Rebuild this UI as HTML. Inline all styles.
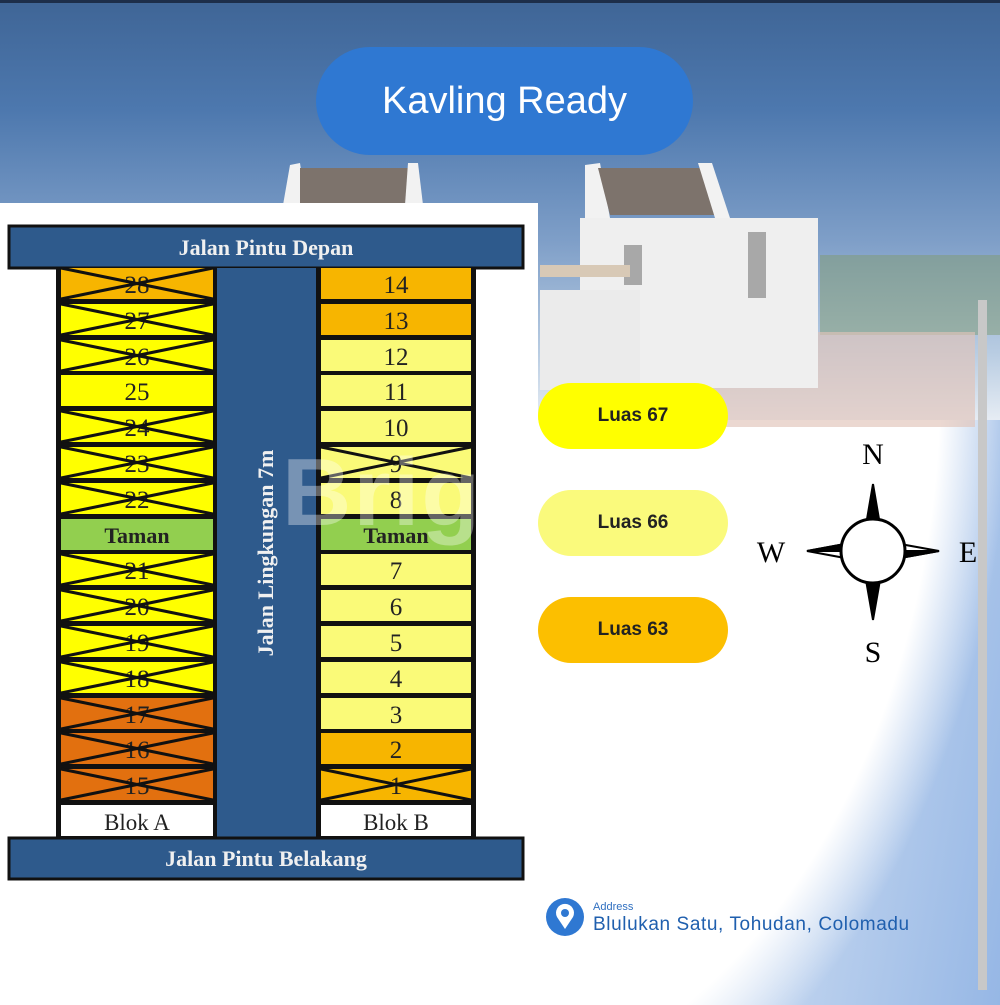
<!DOCTYPE html>
<html><head><meta charset="utf-8"><style>
*{margin:0;padding:0}
body{width:1000px;height:1005px;overflow:hidden;position:relative;background:#fff;font-family:"Liberation Sans",sans-serif}
.abs{position:absolute}
.pill{position:absolute;left:538px;width:190px;height:66px;border-radius:33px;display:flex;align-items:center;justify-content:center;font-weight:bold;font-size:19px;color:#222}
</style></head><body>
<div class="abs" style="left:0;top:0;width:1000px;height:440px;background:linear-gradient(180deg,#3f6596 0%,#4d78ae 25%,#7f9fc8 55%,#b8cce2 80%,#f4f6f9 100%)"></div>
<div class="abs" style="left:0;top:0;width:1000px;height:3px;background:#1d2e4a"></div>
<div class="abs" style="left:0;top:420px;width:1000px;height:585px;background:radial-gradient(ellipse 580px 820px at 430px -40px,#fff 88%,rgba(255,255,255,0) 100%),linear-gradient(100deg,#fff 55%,#c9daf1 75%,#96b7e5 100%)"></div>
<svg class="abs" style="left:0;top:0" width="1000" height="440">
<rect x="820" y="255" width="180" height="80" fill="#7f9a70" opacity=".5"/>
<rect x="645" y="332" width="330" height="95" fill="#e0c3b8" opacity=".65"/>
<polygon points="585,165 600,163 610,218 585,218" fill="#f2f2f2"/>
<polygon points="598,168 700,168 715,215 610,215" fill="#7d736c"/>
<polygon points="698,163 712,163 730,218 715,218" fill="#f2f2f2"/>
<rect x="580" y="218" width="238" height="170" fill="#efefef"/>
<rect x="748" y="232" width="18" height="66" fill="#a8a8a8"/>
<rect x="624" y="245" width="18" height="40" fill="#a8a8a8"/>
<rect x="540" y="265" width="90" height="12" fill="#d8c9b6"/>
<rect x="540" y="290" width="100" height="100" fill="#ebebeb"/>
<polygon points="290,165 300,163 306,205 283,205" fill="#f2f2f2"/>
<polygon points="300,168 410,168 405,205 300,205" fill="#7d736c"/>
<polygon points="408,163 418,163 423,205 405,205" fill="#f2f2f2"/>
<rect x="978" y="300" width="9" height="690" fill="#c8c8c8"/>
</svg>
<div class="abs" style="left:978px;top:420px;width:9px;height:570px;background:#c8c8c8"></div>
<div class="abs" style="left:0;top:203px;width:538px;height:802px;background:#fff"></div>
<svg class="abs" style="left:0;top:0" width="540" height="1005" font-family="Liberation Serif,serif">
<rect x="9" y="226" width="514" height="42" fill="#2e5a8c" stroke="#111" stroke-width="3"/>
<text x="266" y="255" text-anchor="middle" fill="#f0f0f0" font-size="22" font-weight="bold">Jalan Pintu Depan</text>
<rect x="215" y="268" width="103" height="572" fill="#2e5a8c"/>
<text transform="translate(273,553) rotate(-90)" text-anchor="middle" fill="#f0f0f0" font-size="22" font-weight="bold">Jalan Lingkungan 7m</text>
<rect x="56" y="268" width="161" height="572" fill="#111"/>
<rect x="316" y="268" width="160" height="572" fill="#111"/>
<g font-size="25" fill="#222" text-anchor="middle">
<g>
<rect x="61" y="268" width="152" height="31" fill="#f7b500"/>
<rect x="61" y="304" width="152" height="31" fill="#ffff00"/>
<rect x="61" y="340" width="152" height="31" fill="#ffff00"/>
<rect x="61" y="375" width="152" height="31" fill="#ffff00"/>
<rect x="61" y="411" width="152" height="31" fill="#ffff00"/>
<rect x="61" y="447" width="152" height="31" fill="#ffff00"/>
<rect x="61" y="483" width="152" height="31" fill="#ffff00"/>
<rect x="61" y="519" width="152" height="31" fill="#92cf4f"/>
<rect x="61" y="554" width="152" height="31" fill="#ffff00"/>
<rect x="61" y="590" width="152" height="31" fill="#ffff00"/>
<rect x="61" y="626" width="152" height="31" fill="#ffff00"/>
<rect x="61" y="662" width="152" height="31" fill="#ffff00"/>
<rect x="61" y="698" width="152" height="31" fill="#e2700f"/>
<rect x="61" y="733" width="152" height="31" fill="#e2700f"/>
<rect x="61" y="769" width="152" height="31" fill="#e2700f"/>
<rect x="61" y="805" width="152" height="31" fill="#fff"/>
</g>
<g>
<rect x="321" y="268" width="150" height="31" fill="#f7b500"/>
<rect x="321" y="304" width="150" height="31" fill="#f7b500"/>
<rect x="321" y="340" width="150" height="31" fill="#fafa78"/>
<rect x="321" y="375" width="150" height="31" fill="#fafa78"/>
<rect x="321" y="411" width="150" height="31" fill="#fafa78"/>
<rect x="321" y="447" width="150" height="31" fill="#fafa78"/>
<rect x="321" y="483" width="150" height="31" fill="#fafa78"/>
<rect x="321" y="519" width="150" height="31" fill="#92cf4f"/>
<rect x="321" y="554" width="150" height="31" fill="#fafa78"/>
<rect x="321" y="590" width="150" height="31" fill="#fafa78"/>
<rect x="321" y="626" width="150" height="31" fill="#fafa78"/>
<rect x="321" y="662" width="150" height="31" fill="#fafa78"/>
<rect x="321" y="698" width="150" height="31" fill="#fafa78"/>
<rect x="321" y="733" width="150" height="31" fill="#f7b500"/>
<rect x="321" y="769" width="150" height="31" fill="#f7b500"/>
<rect x="321" y="805" width="150" height="31" fill="#fff"/>
</g>
<text x="137" y="293">28</text><text x="137" y="329">27</text><text x="137" y="365">26</text><text x="137" y="400">25</text><text x="137" y="436">24</text><text x="137" y="472">23</text><text x="137" y="508">22</text>
<text x="137" y="543" font-weight="bold" font-size="22">Taman</text>
<text x="137" y="579">21</text><text x="137" y="615">20</text><text x="137" y="651">19</text><text x="137" y="687">18</text><text x="137" y="723">17</text><text x="137" y="758">16</text><text x="137" y="794">15</text>
<text x="137" y="830" font-size="23">Blok A</text>
<text x="396" y="293">14</text><text x="396" y="329">13</text><text x="396" y="365">12</text><text x="396" y="400">11</text><text x="396" y="436">10</text><text x="396" y="472">9</text><text x="396" y="508">8</text>
<text x="396" y="543" font-weight="bold" font-size="22">Taman</text>
<text x="396" y="579">7</text><text x="396" y="615">6</text><text x="396" y="651">5</text><text x="396" y="687">4</text><text x="396" y="723">3</text><text x="396" y="758">2</text><text x="396" y="794">1</text>
<text x="396" y="830" font-size="23">Blok B</text>
</g>
<g stroke="#111" stroke-width="3">
<path d="M61 268L213 299M213 268L61 299"/>
<path d="M61 304L213 335M213 304L61 335"/>
<path d="M61 340L213 371M213 340L61 371"/>
<path d="M61 411L213 442M213 411L61 442"/>
<path d="M61 447L213 478M213 447L61 478"/>
<path d="M61 483L213 514M213 483L61 514"/>
<path d="M61 554L213 585M213 554L61 585"/>
<path d="M61 590L213 621M213 590L61 621"/>
<path d="M61 626L213 657M213 626L61 657"/>
<path d="M61 662L213 693M213 662L61 693"/>
<path d="M61 698L213 729M213 698L61 729"/>
<path d="M61 733L213 764M213 733L61 764"/>
<path d="M61 769L213 800M213 769L61 800"/>
<path d="M321 447L471 478M471 447L321 478"/>
<path d="M321 769L471 800M471 769L321 800"/>
</g>
<rect x="9" y="838" width="514" height="41" fill="#2e5a8c" stroke="#111" stroke-width="3"/>
<text x="266" y="866" text-anchor="middle" fill="#f0f0f0" font-size="22" font-weight="bold">Jalan Pintu Belakang</text>
</svg>
<div class="abs" style="left:282px;top:438px;font-size:96px;font-weight:bold;color:rgba(255,255,255,.35);letter-spacing:2px">Brighton</div>
<div class="abs" style="left:316px;top:47px;width:377px;height:108px;border-radius:54px;background:#2f78d2;color:#fff;font-size:38px;display:flex;align-items:center;justify-content:center">Kavling Ready</div>
<div class="pill" style="top:383px;background:#ffff00">Luas 67</div>
<div class="pill" style="top:490px;background:#fafa7c">Luas 66</div>
<div class="pill" style="top:597px;background:#fcbf00">Luas 63</div>
<svg class="abs" style="left:740px;top:430px" width="260" height="240" font-family="Liberation Serif,serif" font-size="30">
<text x="133" y="34" text-anchor="middle">N</text>
<text x="133" y="232" text-anchor="middle">S</text>
<text x="31" y="132" text-anchor="middle">W</text>
<text x="228" y="132" text-anchor="middle">E</text>
<g stroke="#000" stroke-width="2" fill="#000">
<polygon points="133,54 140,95 126,95"/>
<polygon points="133,190 140,150 126,150"/>
<polygon points="67,121 105,114 105,128" fill="#fff"/>
<polygon points="199,121 160,114 160,128" fill="#fff"/>
<path d="M67 121L105 114L105 121Z M199 121L160 128L160 121Z"/>
</g>
<circle cx="133" cy="121" r="32" fill="#fff" stroke="#000" stroke-width="3"/>
</svg>
<svg class="abs" style="left:546px;top:898px" width="40" height="40">
<circle cx="19" cy="19" r="19" fill="#2f78d2"/>
<path d="M19 31 L11 19 A9 9 0 1 1 27 19 Z" fill="#fff"/>
<circle cx="19" cy="15" r="4" fill="#2f78d2"/>
</svg>
<div class="abs" style="left:593px;top:901px;font-size:11px;color:#2f6fc0">Address</div>
<div class="abs" style="left:593px;top:914px;font-size:19px;letter-spacing:.6px;color:#1f5fae">Blulukan Satu, Tohudan, Colomadu</div>
</body></html>
